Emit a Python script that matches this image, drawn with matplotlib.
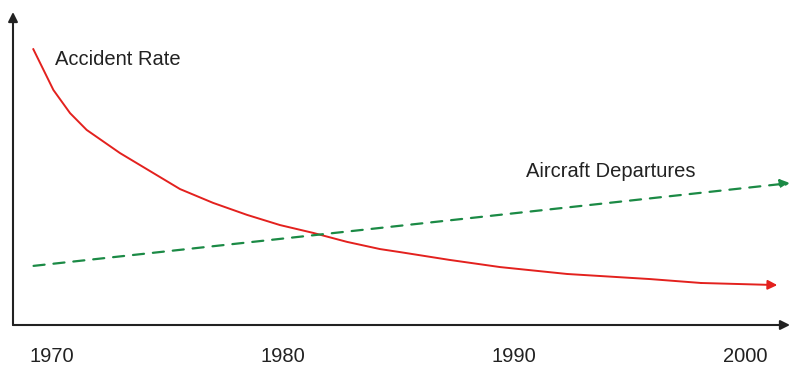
import matplotlib.pyplot as plt

plt.rcParams['font.family'] = ['Liberation Sans', 'DejaVu Sans']

# (x in years, y in arbitrary units)
years_rate = [1969.19, 1970.06, 1970.78, 1971.5, 1972.94, 1974.37, 1975.54,
              1976.97, 1978.44, 1979.87, 1981.3, 1982.77, 1984.2, 1985.06,
              1987.2, 1989.4, 1992.3, 1995.9, 1998.1, 2001.4]
accident_rate = [91.9, 78.3, 70.6, 65.0, 57.3, 50.7, 45.3,
                 40.7, 36.7, 33.3, 30.7, 27.7, 25.3, 24.3,
                 21.7, 19.3, 17.0, 15.3, 14.0, 13.3]
years_dep = [1969.2, 2001.95]
departures = [19.7, 47.3]
tick_years = [1970, 1980, 1990, 2000]

red = '#e3211e'
green = '#1b8a45'
ink = '#222222'

fig = plt.figure(figsize=(8, 3.76), dpi=100)
ax = fig.add_axes([13 / 800, 51 / 376, 777 / 800, 313 / 376])
ax.set_xlim(1968.31, 2001.95)
ax.set_ylim(0, 104.3)

for s in ax.spines.values():
    s.set_visible(False)

# axes with arrowheads
ax.annotate('', xy=(1, 0), xytext=(0, 0), xycoords='axes fraction',
            arrowprops=dict(arrowstyle='-|>', color=ink, lw=1.5,
                            mutation_scale=14, shrinkA=0, shrinkB=0))
ax.annotate('', xy=(0, 1), xytext=(0, 0), xycoords='axes fraction',
            arrowprops=dict(arrowstyle='-|>', color=ink, lw=1.5,
                            mutation_scale=14, shrinkA=0, shrinkB=0))

# accident rate
ax.plot(years_rate[:-1], accident_rate[:-1], color=red, lw=1.4,
        solid_joinstyle='round')
ax.annotate('', xy=(years_rate[-1], accident_rate[-1]),
            xytext=(years_rate[-2], accident_rate[-2]),
            arrowprops=dict(arrowstyle='-|>', color=red, lw=1.4,
                            mutation_scale=14, shrinkA=0, shrinkB=0))

# aircraft departures
ax.annotate('', xy=(years_dep[-1], departures[-1]),
            xytext=(years_dep[0], departures[0]),
            arrowprops=dict(arrowstyle='-|>', color=green, lw=1.6,
                            linestyle=(0, (5, 4)), mutation_scale=14,
                            shrinkA=0, shrinkB=0))

ax.text(1970.13, 88.5, 'Accident Rate', fontsize=14.5, color=ink, va='center')
ax.text(1990.52, 51, 'Aircraft Departures', fontsize=14.5, color=ink,
        va='center')

ax.set_xticks(tick_years)
ax.set_xticklabels([str(y) for y in tick_years], fontsize=14.5, color=ink)
ax.tick_params(axis='x', length=0, pad=16)
ax.set_yticks([])

fig.savefig('out.png', dpi=100)
